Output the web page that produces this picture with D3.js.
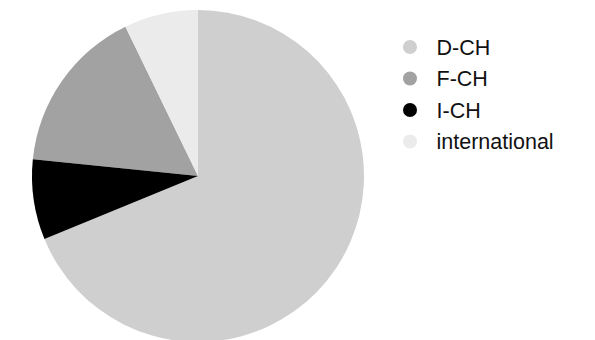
<!DOCTYPE html>
<html>
<head>
<meta charset="utf-8">
<script src="https://cdn.jsdelivr.net/npm/d3@7"></script>
<style>
  html, body { margin: 0; padding: 0; background: #fff; }
  svg { display: block; }
</style>
</head>
<body>
<div id="chart"></div>
<script>
const width = 595;
const height = 340;

// data (percent shares)
const categories = ["D-CH", "F-CH", "I-CH", "international"];
const values = [68.8, 16.2, 7.8, 7.2];
const colors = ["#cfcfcf", "#a2a2a2", "#000000", "#ebebeb"];
// clockwise order of the slices starting at 12 o'clock
const drawOrder = ["D-CH", "I-CH", "F-CH", "international"];

const cx = 198;
const cy = 176;
const radius = 166;

const svg = d3.select("#chart")
    .append("svg")
        .attr("width", width)
        .attr("height", height)
        .attr("viewBox", [0, 0, width, height]);

const data = categories.map((c, i) => ({ name: c, value: values[i], color: colors[i] }));

const pie = d3.pie()
    .value(d => d.value)
    .sort((a, b) => drawOrder.indexOf(a.name) - drawOrder.indexOf(b.name));

const arc = d3.arc()
    .innerRadius(0)
    .outerRadius(radius);

svg.append("g")
        .attr("transform", "translate(" + cx + "," + cy + ")")
    .selectAll("path")
    .data(pie(data))
    .enter().append("path")
        .attr("d", arc)
        .attr("fill", d => d.data.color);

// legend
const legendX = 410;
const legendY = 47;
const legendStep = 31.5;

const legend = svg.append("g").selectAll(".legend")
    .data(data)
    .enter().append("g")
        .attr("class", "legend")
        .attr("transform", (d, i) => "translate(" + legendX + "," + (legendY + i * legendStep) + ")");

legend.append("circle")
    .attr("r", 7)
    .attr("fill", d => d.color);

legend.append("text")
    .attr("x", 26.5)
    .attr("dy", "0.36em")
    .style("font-family", "'Liberation Sans', Arial, sans-serif")
    .style("font-size", "21.5px")
    .attr("fill", "#111")
    .text(d => d.name);
</script>
</body>
</html>
